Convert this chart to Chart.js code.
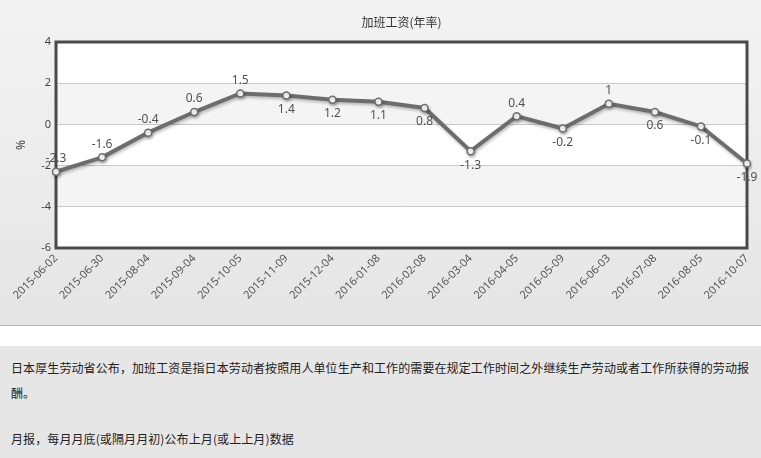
<!DOCTYPE html>
<html>
<head>
<meta charset="utf-8">
<script src="https://cdn.jsdelivr.net/npm/chart.js@4"></script>
<style>
    body { margin: 0; width: 761px; height: 458px; overflow: hidden; background: #ffffff; font-family: "Noto Sans CJK SC", "Noto Sans", sans-serif; }
    #caixaGrafico { position: absolute; left: 0; top: 0; width: 761px; height: 325px; background: linear-gradient(#f3f3f3, #e5e5e5); border-bottom: 1px solid #b9b9b9; }
    #caixaGrafico canvas { display: block; }
    #texto { position: absolute; left: 0; top: 346px; width: 761px; height: 112px; background: #e6e6e6; color: #222; font-size: 12px; }
    #texto p { margin: 0; width: 740px; margin-left: 11px; line-height: 25px; letter-spacing: 0.1px; }
</style>
</head>
<body>
<div id="caixaGrafico"><canvas id="graficoHoraExtra" width="761" height="325"></canvas></div>
<div id="texto">
    <p style="padding-top: 9px">日本厚生劳动省公布，加班工资是指日本劳动者按照用人单位生产和工作的需要在规定工作时间之外继续生产劳动或者工作所获得的劳动报酬。</p>
    <p style="margin-top: 21px">月报，每月月底(或隔月月初)公布上月(或上上月)数据</p>
</div>
<script>
    // DADOS

    const datas = ['2015-06-02', '2015-06-30', '2015-08-04', '2015-09-04', '2015-10-05', '2015-11-09', '2015-12-04', '2016-01-08',
        '2016-02-08', '2016-03-04', '2016-04-05', '2016-05-09', '2016-06-03', '2016-07-08', '2016-08-05', '2016-10-07']
    const valores = [-2.3, -1.6, -0.4, 0.6, 1.5, 1.4, 1.2, 1.1, 0.8, -1.3, 0.4, -0.2, 1, 0.6, -0.1, -1.9]
    const ticksY = [-6, -4, -2, 0, 2, 4]
    const titulo = '加班工资(年率)'
    const tituloY = '%'

    // FUNDO, FAIXAS E BORDA

    var fundoPlugin = {
        id: 'fundo',
        beforeDraw: function (chart) {
            var ctx = chart.ctx, a = chart.chartArea, y = chart.scales.y;
            ctx.save();
            ctx.fillStyle = '#ffffff';
            ctx.fillRect(a.left, a.top, a.right - a.left, a.bottom - a.top);
            ctx.fillStyle = '#f4f4f4';
            // faixas cinza entre 0 e 2 e entre -4 e -2
            for (var i = 1; i < ticksY.length - 1; i += 2) {
                var y1 = y.getPixelForValue(ticksY[i + 1]), y2 = y.getPixelForValue(ticksY[i]);
                ctx.fillRect(a.left, y1, a.right - a.left, y2 - y1);
            }
            ctx.restore();
        },
        beforeDatasetsDraw: function (chart) {
            var ctx = chart.ctx, a = chart.chartArea;
            ctx.save();
            ctx.strokeStyle = '#4a4a4a';
            ctx.lineWidth = 3;
            ctx.strokeRect(a.left, a.top, a.right - a.left, a.bottom - a.top);
            // titulo
            ctx.fillStyle = '#333';
            ctx.font = '12px "Noto Sans CJK SC"';
            ctx.textAlign = 'center';
            ctx.textBaseline = 'middle';
            ctx.fillText(titulo, (a.left + a.right) / 2, 22);
            ctx.restore();
        },
        beforeDatasetDraw: function (chart) {
            var ctx = chart.ctx;
            ctx.save();
            ctx.shadowColor = 'rgba(0, 0, 0, 0.25)';
            ctx.shadowBlur = 3;
            ctx.shadowOffsetX = 1;
            ctx.shadowOffsetY = 2;
        },
        afterDatasetDraw: function (chart) {
            chart.ctx.restore();
        },
        afterDatasetsDraw: function (chart) {
            // rotulos dos pontos
            var ctx = chart.ctx, pontos = chart.getDatasetMeta(0).data;
            ctx.save();
            ctx.fillStyle = '#505050';
            ctx.font = '12px "Noto Sans"';
            ctx.textAlign = 'center';
            ctx.textBaseline = 'middle';
            for (var i = 0; i < pontos.length; i++) {
                var acima = i === 0 || valores[i] >= valores[i - 1];
                ctx.fillText(String(valores[i]), pontos[i].x, pontos[i].y + (acima ? -13 : 14));
            }
            ctx.restore();
        }
    };

    // GRÁFICO

    var ctxGrafico = document.getElementById('graficoHoraExtra').getContext('2d');

    var graficoHoraExtra = new Chart(ctxGrafico, {
        type: 'line',
        data: {
            labels: datas,
            datasets: [
                {
                    data: valores,
                    borderColor: '#6d6d6d',
                    borderWidth: 4,
                    tension: 0,
                    pointRadius: 3.5,
                    pointBackgroundColor: '#ffffff',
                    pointBorderColor: '#6d6d6d',
                    pointBorderWidth: 1.5,
                    fill: false
                }
            ]
        },
        options: {
            animation: false,
            responsive: false,
            devicePixelRatio: 1,
            layout: { padding: { left: 0, top: 42, right: 14, bottom: 0 } },
            plugins: { legend: { display: false }, tooltip: { enabled: false } },
            scales: {
                x: {
                    offset: false,
                    grid: { display: false, drawTicks: false },
                    border: { display: false },
                    ticks: { color: '#555', font: { size: 11, family: 'Noto Sans' }, minRotation: 45, maxRotation: 45, padding: 4, autoSkip: false },
                    afterFit: function (eixo) { eixo.height = 77; }
                },
                y: {
                    min: -6,
                    max: 4,
                    afterBuildTicks: function (eixo) { eixo.ticks = ticksY.map(function (v) { return { value: v }; }); },
                    grid: { color: '#c8c8c8', drawTicks: false },
                    border: { display: false },
                    ticks: { color: '#444', font: { size: 11, family: 'Noto Sans' }, padding: 5 },
                    title: { display: true, text: tituloY, color: '#444', font: { size: 12, family: 'Noto Sans' }, padding: { top: 14, bottom: 0 } },
                    afterFit: function (eixo) { eixo.width = 56; }
                }
            }
        },
        plugins: [fundoPlugin]
    });
</script>
</body>
</html>
